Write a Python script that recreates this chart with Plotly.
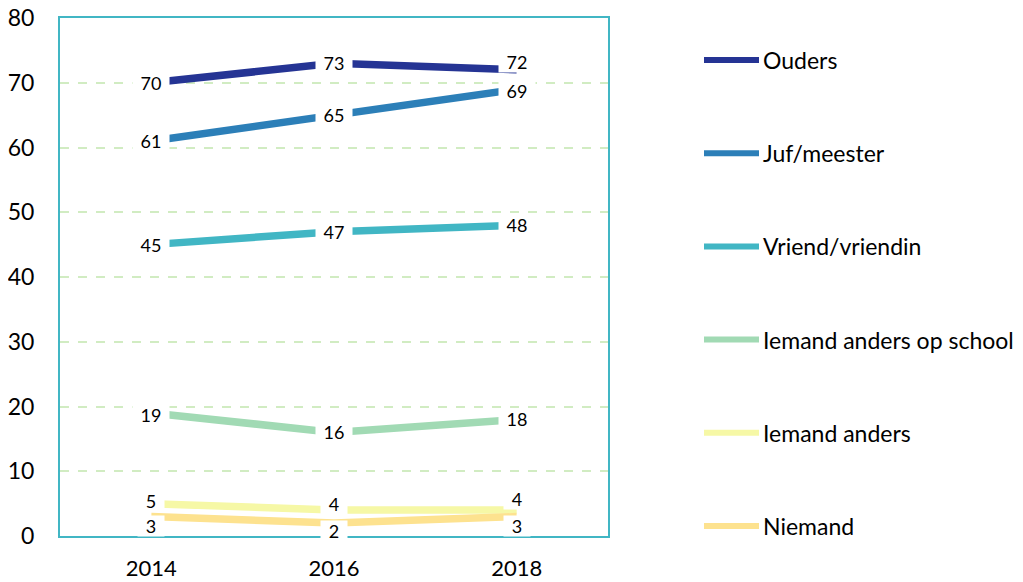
import plotly.graph_objects as go

years = ["2014", "2016", "2018"]
series_names = ["Ouders", "Juf/meester", "Vriend/vriendin",
                "Iemand anders op school", "Iemand anders", "Niemand"]
ouders = [70, 73, 72]
juf_meester = [61, 65, 69]
vriend = [45, 47, 48]
iemand_school = [19, 16, 18]
iemand_anders = [5, 4, 4]
niemand = [3, 2, 3]
y_ticks = [0, 10, 20, 30, 40, 50, 60, 70, 80]

values = [ouders, juf_meester, vriend, iemand_school, iemand_anders, niemand]
colors = ["#253494", "#2c7fb8", "#41b6c4", "#a1dab4", "#f6f8a6", "#fde28f"]
# vertical label nudges (px) to avoid overlapping labels
label_shift = [[0, 0, 8], [0, 0, -2], [0, 0, 0], [-2, 0, 0], [3, 6, 11], [-9, -8, -9]]

FONT = "Lato"
OFF = 8  # page body margin
W, H = 1023 - OFF, 582 - OFF
L, T = 60 - OFF, 18 - OFF
pw, ph = 548, 518
R, B = W - L - pw, H - T - ph


def px_x(p):
    return (p - OFF - L) / pw


def px_y(p):
    return (T + ph - (p - OFF)) / ph


fig = go.Figure()
for name, vals, col in zip(series_names, values, colors):
    fig.add_trace(go.Scatter(
        x=years, y=vals, name=name, mode="lines",
        line=dict(color=col, width=7.5), showlegend=False,
    ))

for vals, shifts in zip(values, label_shift):
    for i, (v, s) in enumerate(zip(vals, shifts)):
        txt = str(v)
        fig.add_annotation(
            x=i, y=v, text=txt, showarrow=False,
            bgcolor="white", yshift=s, borderpad=0,
            width=10 * len(txt) + 16, height=20,
            font=dict(family=FONT, size=18, color="black"),
        )

# legend drawn on the right
for i, (name, col) in enumerate(zip(series_names, colors)):
    yc = 60 + i * 93.2
    fig.add_shape(type="line", xref="paper", yref="paper",
                  x0=px_x(704), x1=px_x(759), y0=px_y(yc), y1=px_y(yc),
                  line=dict(color=col, width=6))
    fig.add_annotation(xref="paper", yref="paper", x=px_x(761), y=px_y(yc),
                       xanchor="left", yanchor="middle", showarrow=False,
                       text=name, font=dict(family=FONT, size=23, color="black"))

fig.update_layout(
    width=W, height=H,
    margin=dict(l=L, r=R, t=T, b=B, autoexpand=False),
    paper_bgcolor="white", plot_bgcolor="white",
    font=dict(family=FONT, color="black"),
    showlegend=False,
)
fig.update_xaxes(
    type="category", range=[-0.5, 2.5], showgrid=False, showline=True, mirror=True,
    linecolor="#41b6c4", linewidth=2, ticks="", ticklabelstandoff=12,
    tickfont=dict(family=FONT, size=22, color="black"), automargin=False,
    ticklabeloverflow="allow",
)
fig.update_yaxes(
    range=[0, 80], tickvals=y_ticks, showline=True, mirror=True,
    linecolor="#41b6c4", linewidth=2,
    showgrid=True, gridcolor="#d1ecc2", gridwidth=1.5, griddash="dash",
    zeroline=False, ticks="", ticklabelstandoff=19,
    tickfont=dict(family=FONT, size=23, color="black"), automargin=False,
    ticklabeloverflow="allow",
)
fig.write_html("out.html")
